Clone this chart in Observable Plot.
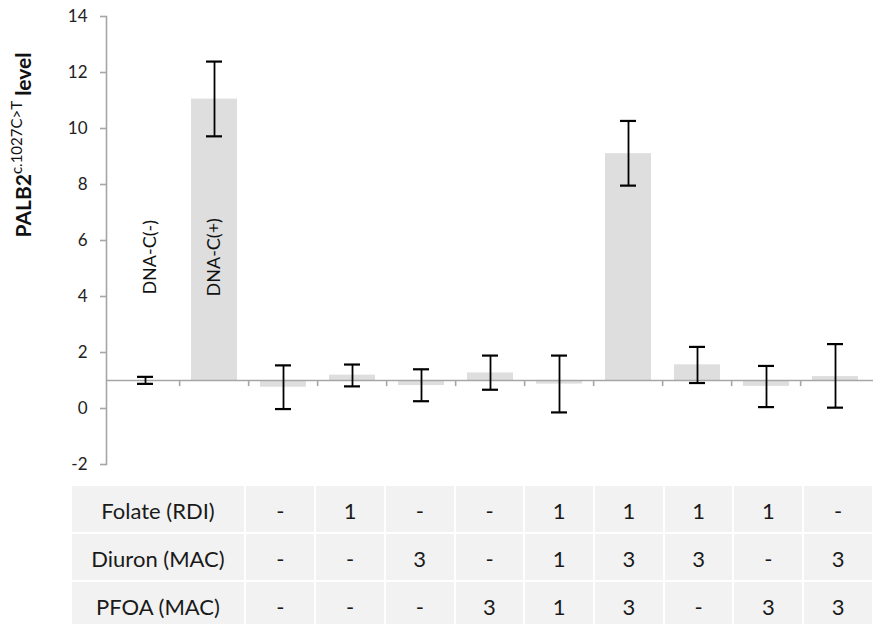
<!DOCTYPE html>
<html><head><meta charset="utf-8">
<script src="https://cdn.jsdelivr.net/npm/d3@7"></script>
<script src="https://cdn.jsdelivr.net/npm/@observablehq/plot@0.6"></script>
<style>
body{margin:0;background:#fff;overflow:hidden;font-family:Lato,sans-serif}
#chart svg{display:block}
#table{display:grid;margin-left:70.5px;margin-top:8.5px}
.cell{box-sizing:border-box;border:1.5px solid #fff;background:#f2f2f2;height:48px;display:flex;align-items:center;justify-content:center;font-size:22px;color:#1a1a1a;font-family:Lato,sans-serif;white-space:nowrap;padding-top:4px}
</style></head><body>
<div id="chart"></div><div id="table"></div>
<script>
// ---- data ----
const categories = ["DNA-C(-)", "DNA-C(+)", "T1", "T2", "T3", "T4", "T5", "T6", "T7", "T8", "T9"];
const values  = [1.00, 11.05, 0.76, 1.19, 0.82, 1.27, 0.87, 9.10, 1.56, 0.79, 1.14];
const errLow  = [0.88, 9.72, -0.02, 0.79, 0.26, 0.67, -0.14, 7.96, 0.91, 0.05, 0.03];
const errHigh = [1.13, 12.39, 1.54, 1.57, 1.40, 1.89, 1.89, 10.27, 2.20, 1.52, 2.30];
const baseline = 1;
const yTicks = [-2, 0, 2, 4, 6, 8, 10, 12, 14];
const bandLabels = ["DNA-C(-)", "DNA-C(+)"];
const rowLabels = ["Folate (RDI)", "Diuron (MAC)", "PFOA (MAC)"];
const folate = ["-", "1", "-", "-", "1", "1", "1", "1", "-"];
const diuron = ["-", "-", "3", "-", "1", "3", "3", "-", "3"];
const pfoa   = ["-", "-", "-", "3", "1", "3", "-", "3", "3"];

// ---- layout ----
const W = 873, H = 476, ML = 106;
const step = (W - ML) / categories.length;
const gray = "#a6a6a6";

const data = categories.map((c, i) => ({cat: c, value: values[i], lo: errLow[i], hi: errHigh[i]}));

const chart = Plot.plot({
  width: W, height: H,
  marginLeft: ML, marginRight: 0, marginTop: 16, marginBottom: 12,
  x: {domain: categories, paddingInner: 0.34, paddingOuter: 0.17, axis: null},
  y: {domain: [-2, 14], axis: null},
  style: {fontFamily: "Lato, sans-serif", fontSize: "17px", color: "#222", background: "#fff"},
  marks: [
    Plot.barY(data, {x: "cat", y1: () => baseline, y2: "value", fill: "#dedede"}),
    Plot.ruleY([baseline], {stroke: gray, strokeWidth: 1.6}),
    Plot.ruleX(categories.slice(1), {x: d => d, y1: () => baseline, y2: () => baseline - 0.22, dx: -step / 2, stroke: gray, strokeWidth: 1.6}),
    Plot.frame({anchor: "left", stroke: gray, strokeWidth: 1.6}),
    Plot.axisY({ticks: yTicks, tickSize: 6, tickPadding: 13, stroke: gray, strokeWidth: 1.6, fill: "#222", fontSize: 17, label: null, tickFormat: d => String(d)}),
    Plot.ruleX(data, {x: "cat", y1: "lo", y2: "hi", stroke: "#000", strokeWidth: 1.8}),
    Plot.tickY(data, {x: "cat", y: "lo", insetLeft: 15, insetRight: 15, stroke: "#000", strokeWidth: 2.2}),
    Plot.tickY(data, {x: "cat", y: "hi", insetLeft: 15, insetRight: 15, stroke: "#000", strokeWidth: 2.2}),
    Plot.text([bandLabels[0]], {x: () => categories[0], y: () => 5.4, text: d => d, rotate: -90, dx: 5, fontSize: 18, fill: "#111"}),
    Plot.text([bandLabels[1]], {x: () => categories[1], y: () => 5.4, text: d => d, rotate: -90, fontSize: 18, fill: "#111"})
  ]
});
document.getElementById("chart").appendChild(chart);

// y axis title with superscript
const t = d3.select(chart).append("text")
  .attr("transform", "translate(31,145) rotate(-90)")
  .attr("text-anchor", "middle")
  .attr("font-family", "Lato, sans-serif")
  .attr("font-weight", "bold")
  .attr("font-size", 21)
  .attr("fill", "#111");
t.append("tspan").text("PALB2");
t.append("tspan").attr("dy", -9).attr("font-size", 15).attr("font-weight", "normal").text("c.1027C>T");
t.append("tspan").attr("dy", 9).text(" level");

// table
const table = document.getElementById("table");
table.style.gridTemplateColumns = `${ML + 2 * step - 70.5}px repeat(${categories.length - 2}, ${step}px)`;
[folate, diuron, pfoa].forEach((row, r) => {
  const lab = document.createElement("div");
  lab.className = "cell"; lab.textContent = rowLabels[r];
  table.appendChild(lab);
  row.forEach(v => {
    const c = document.createElement("div");
    c.className = "cell"; c.textContent = v;
    table.appendChild(c);
  });
});
</script></body></html>
